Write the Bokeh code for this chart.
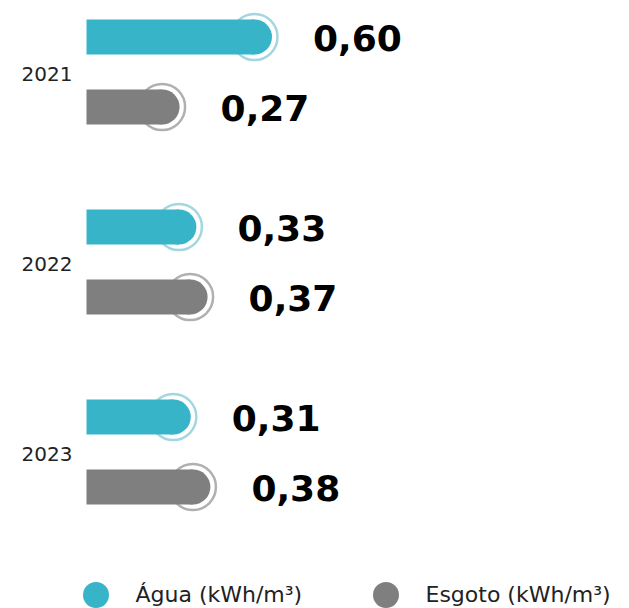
from bokeh.plotting import figure
from bokeh.models import Range1d, ColumnDataSource, Legend, LegendItem
from bokeh.core.properties import value
from bokeh.embed import file_html
from bokeh.resources import INLINE

# ---- data ----
years = ["2021", "2022", "2023"]
series = ["Água (kWh/m³)", "Esgoto (kWh/m³)"]
agua = [0.60, 0.33, 0.31]
esgoto = [0.27, 0.37, 0.38]

# ---- style / layout ----
W, H = 629, 608
PX_Y = 70.0          # px per row unit
PX_X = 280.0         # px per kWh/m3
X0_PX = 86.0         # px of the zero line from the left
TOP_PX = 36.5        # px from top to first row centre
GROUP_STEP = 190.0 / PX_Y
TEAL, TEAL_RING = "#38b4c9", "#a3d6e1"
GREY, GREY_RING = "#7f7f7f", "#b0b0b0"

def fmt(v):
    return f"{v:.2f}".replace(".", ",")

ya = [-i * GROUP_STEP for i in range(len(years))]
ye = [y - 1 for y in ya]
yc = [(a + b) / 2 for a, b in zip(ya, ye)]

src_a = ColumnDataSource(dict(y=ya, v=agua, lab=[fmt(v) for v in agua]))
src_e = ColumnDataSource(dict(y=ye, v=esgoto, lab=[fmt(v) for v in esgoto]))
src_y = ColumnDataSource(dict(y=yc, year=years))

y_end = TOP_PX / PX_Y
x_start = -X0_PX / PX_X
p = figure(width=W, height=H, output_backend="svg", toolbar_location=None,
           x_range=Range1d(x_start, x_start + W / PX_X),
           y_range=Range1d(y_end - H / PX_Y, y_end),
           min_border=0, outline_line_color=None)
p.axis.visible = False
p.grid.visible = False
p.background_fill_color = "white"
p.border_fill_color = "white"

caps = []
for src, col, ring in [(src_a, TEAL, TEAL_RING), (src_e, GREY, GREY_RING)]:
    p.scatter(x="v", y="y", source=src, marker="circle", size=46,
              fill_color=None, line_color=ring, line_width=2.5)
    p.hbar(y="y", left=0, right="v", height=0.5, source=src,
           fill_color=col, line_color=None)
    c = p.scatter(x="v", y="y", source=src, marker="circle", size=35,
                  fill_color=col, line_color=None)
    caps.append(c)
    p.text(x="v", y="y", text="lab", source=src, x_offset=58.5, y_offset=1,
           text_align="left", text_baseline="middle",
           text_font=value("DejaVu Sans"), text_font_style="bold",
           text_font_size="36px", text_color="#000000")

p.text(x=0, y="y", text="year", source=src_y, x_offset=-14, y_offset=2,
       text_align="right", text_baseline="middle",
       text_font=value("DejaVu Sans"), text_font_size="20px",
       text_color="#222222")

legend = Legend(items=[LegendItem(label=series[0], renderers=[caps[0]]),
                       LegendItem(label=series[1], renderers=[caps[1]])],
                orientation="horizontal", location=(62.5, -18.5),
                glyph_width=65, glyph_height=65, label_standoff=8,
                spacing=7, label_width=210, padding=0, margin=0,
                border_line_color=None, background_fill_alpha=0,
                label_text_font="DejaVu Sans", label_text_font_size="22px",
                label_text_color="#222222")
p.add_layout(legend)

open("out.html", "w").write(file_html(p, INLINE))
